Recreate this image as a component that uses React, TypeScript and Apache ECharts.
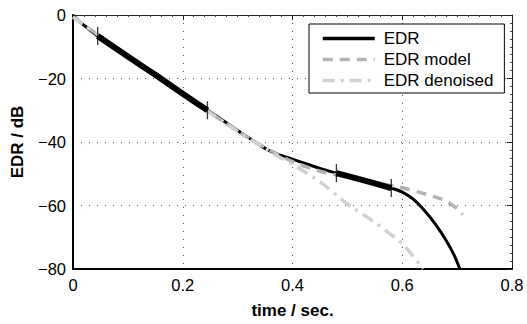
import React, { useEffect, useRef } from "react";
import * as echarts from "echarts";

// EDR (measured) curve
const edrTime = [0, 0.01, 0.02, 0.03, 0.045, 0.1, 0.15, 0.2, 0.245, 0.27, 0.3, 0.35, 0.375, 0.4, 0.42, 0.45, 0.48, 0.52, 0.55, 0.58, 0.6, 0.62, 0.64, 0.66, 0.68, 0.695, 0.705];
const edrDb = [0, -1.8, -3.2, -4.6, -6.6, -13.1, -18.8, -24.8, -30, -32.8, -36.4, -42, -44, -45.4, -46.6, -48.3, -49.8, -51.6, -53, -54.5, -55.8, -58, -61.5, -65.8, -71, -75.8, -80];

// EDR model
const modelTime = [0, 0.05, 0.1, 0.2, 0.3, 0.35, 0.4, 0.45, 0.5, 0.55, 0.6, 0.63, 0.66, 0.68, 0.7, 0.71];
const modelDb = [-0.6, -6.8, -12.9, -24.9, -36.6, -41.8, -46.2, -49.2, -51.1, -52.8, -54.4, -55.8, -57.3, -58.6, -61, -62.8];

// EDR denoised
const denoisedTime = [0, 0.05, 0.1, 0.2, 0.3, 0.35, 0.372, 0.4, 0.45, 0.5, 0.55, 0.6, 0.62, 0.638];
const denoisedDb = [-0.6, -6.8, -12.9, -24.9, -36.6, -42, -44.3, -47, -52.5, -59.5, -65.3, -72, -76, -80];

// fit range markers (times on the EDR curve)
const markerTime = [0.045, 0.245, 0.48, 0.58];
const fitRanges = [
  [0.045, 0.245],
  [0.48, 0.58],
];

const xTicks = [0, 0.2, 0.4, 0.6, 0.8];
const yTicks = [-80, -60, -40, -20, 0];

const FONT = "'Liberation Sans', Arial, Helvetica, sans-serif";

export default function App() {
  const ref = useRef<HTMLDivElement>(null);
  useEffect(() => {
    if (!ref.current) return;
    const chart = echarts.init(ref.current, undefined, { renderer: "svg" });
    const edr = edrTime.map((t, i) => [t, edrDb[i]]);
    const model = modelTime.map((t, i) => [t, modelDb[i]]);
    const den = denoisedTime.map((t, i) => [t, denoisedDb[i]]);
    const markers = markerTime.map((t) => [t, edrDb[edrTime.indexOf(t)]]);
    const segs = fitRanges.map(([a, b]) => edr.filter((p) => p[0] >= a && p[0] <= b));
    const fmtY = (v: number) => String(v).replace("-", "\u2212");

    chart.setOption({
      animation: false,
      backgroundColor: "#ffffff",
      textStyle: { fontFamily: FONT },
      grid: { left: 73, right: 15, top: 15, bottom: 47, containLabel: false },
      legend: {
        data: ["EDR", "EDR model", "EDR denoised"],
        orient: "vertical",
        left: 309,
        top: 24,
        padding: [4, 11, 2, 12],
        itemWidth: 52,
        itemHeight: 14,
        itemGap: 0,
        itemStyle: { opacity: 0 },
        lineStyle: { width: 3.5 },
        backgroundColor: "#ffffff",
        borderColor: "#000000",
        borderWidth: 1,
        borderRadius: 0,
        textStyle: { fontSize: 17, color: "#000", lineHeight: 21, fontFamily: FONT, padding: [0, 0, 0, 4] },
      },
      xAxis: [
        {
          type: "value",
          min: xTicks[0],
          max: xTicks[xTicks.length - 1],
          interval: 0.2,
          position: "bottom",
          name: "time / sec.",
          nameLocation: "middle",
          nameGap: 33,
          nameTextStyle: { fontSize: 17, fontWeight: "bold", color: "#000", fontFamily: FONT },
          axisLine: { show: true, onZero: false, lineStyle: { color: "#000", width: 2 } },
          axisTick: { show: false },
          axisLabel: { fontSize: 16.5, color: "#000", margin: 7, fontFamily: FONT, formatter: (v: number) => String(Math.round(v * 10) / 10) },
          splitLine: { show: true, lineStyle: { color: "#555", width: 1, type: [1, 7] } },
        },
        {
          type: "value",
          min: xTicks[0],
          max: xTicks[xTicks.length - 1],
          interval: 0.2,
          position: "top",
          axisLine: { show: true, onZero: false, lineStyle: { color: "#222", width: 1 } },
          axisTick: { show: true, inside: true, length: 5, lineStyle: { color: "#222" } },
          minorTick: { show: true, splitNumber: 10, length: 2, lineStyle: { color: "#444" } },
          axisLabel: { show: false },
          splitLine: { show: false },
        },
      ],
      yAxis: [
        {
          type: "value",
          min: yTicks[0],
          max: yTicks[yTicks.length - 1],
          interval: 20,
          position: "left",
          name: "EDR / dB",
          nameLocation: "middle",
          nameGap: 47,
          nameTextStyle: { fontSize: 17, fontWeight: "bold", color: "#000", fontFamily: FONT },
          axisLine: { show: true, onZero: false, lineStyle: { color: "#000", width: 2 } },
          axisTick: { show: false },
          axisLabel: { fontSize: 16.5, color: "#000", margin: 7, fontFamily: FONT, formatter: fmtY },
          splitLine: { show: true, lineStyle: { color: "#555", width: 1, type: [1, 7] } },
        },
        {
          type: "value",
          min: yTicks[0],
          max: yTicks[yTicks.length - 1],
          interval: 20,
          position: "right",
          axisLine: { show: true, onZero: false, lineStyle: { color: "#222", width: 1 } },
          axisTick: { show: true, inside: true, length: 5, lineStyle: { color: "#222" } },
          minorTick: { show: true, splitNumber: 8, length: 2, lineStyle: { color: "#444" } },
          axisLabel: { show: false },
          splitLine: { show: false },
        },
      ],
      series: [
        {
          name: "EDR",
          type: "line",
          data: edr,
          symbol: "none",
          smooth: 0.2,
          z: 2,
          lineStyle: { color: "#000", width: 3 },
          itemStyle: { color: "#000" },
        },
        {
          name: "EDR model",
          type: "line",
          data: model,
          symbol: "none",
          smooth: 0.2,
          z: 3,
          lineStyle: { color: "#b3b3b3", width: 3.5, type: [10, 7] },
          itemStyle: { color: "#b3b3b3" },
        },
        {
          name: "EDR denoised",
          type: "line",
          data: den,
          symbol: "none",
          smooth: 0.2,
          z: 3,
          lineStyle: { color: "#d0d0d0", width: 3.5, type: [12, 6, 3, 6] },
          itemStyle: { color: "#d0d0d0" },
        },
        ...segs.map((s, i) => ({
          name: "fit" + i,
          type: "line",
          data: s,
          symbol: "none",
          smooth: 0.2,
          z: 4,
          lineStyle: { color: "#000", width: 6 },
        })),
        {
          name: "markers",
          type: "scatter",
          data: markers,
          symbol: "rect",
          symbolSize: [1.3, 18],
          z: 5,
          itemStyle: { color: "#000" },
        },
      ],
    });
    return () => chart.dispose();
  }, []);
  return <div ref={ref} style={{ position: "fixed", left: 0, top: 0, width: 527, height: 324 }} />;
}
